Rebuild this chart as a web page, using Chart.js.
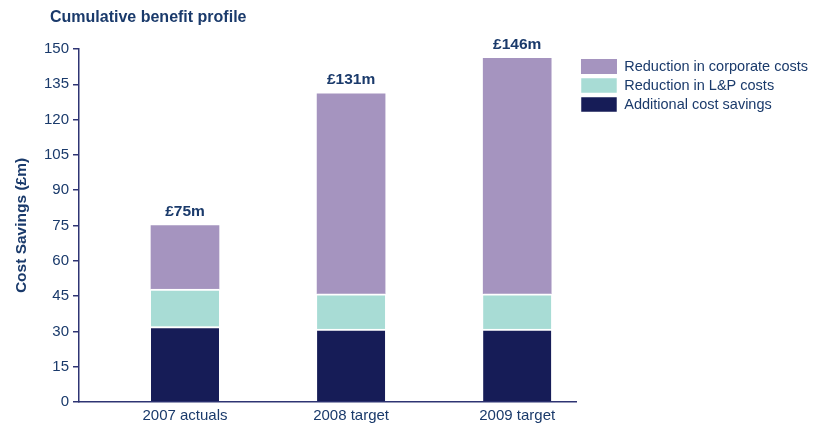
<!DOCTYPE html>
<html>
<head>
<meta charset="utf-8">
<script src="https://cdn.jsdelivr.net/npm/chart.js@4.4.1/dist/chart.umd.min.js"></script>
<style>
  body { margin: 0; background: #fff; }
  #wrap { position: relative; width: 814px; height: 426px; }
  #title {
    position: absolute; left: 50px; top: 9px;
    font: bold 16px "Liberation Sans", Arial, sans-serif; line-height: 16px;
    color: #1a3a6b;
  }
</style>
</head>
<body>
<div id="wrap">
  <canvas id="benefitChart"></canvas>
  <div id="title">Cumulative benefit profile</div>
</div>
<script>
const categories = ['2007 actuals', '2008 target', '2009 target'];
const categoryPos = [1, 2, 3];
const additionalSavings = [32, 31, 31];
const lpReduction = [16, 15, 15];
const corporateReduction = [27, 85, 100];
const totalLabels = ['£75m', '£131m', '£146m'];

const textColor = '#1a3a6b';
const axisColor = '#2e3473';
const fontFamily = '"Liberation Sans", Arial, sans-serif';

// bar totals written above each stack
const totalsPlugin = {
    id: 'totals',
    afterDatasetsDraw(chart) {
        const meta = chart.getDatasetMeta(chart.data.datasets.length - 1);
        const ctx = chart.ctx;
        ctx.save();
        ctx.font = 'bold 15.5px ' + fontFamily;
        ctx.fillStyle = textColor;
        ctx.textAlign = 'center';
        ctx.textBaseline = 'bottom';
        meta.data.forEach((bar, i) => ctx.fillText(totalLabels[i], bar.x, bar.y - 6));
        ctx.restore();
    }
};

const toPoints = arr => arr.map((v, i) => ({ x: categoryPos[i], y: v }));

const ctx = document.getElementById('benefitChart').getContext('2d');
new Chart(ctx, {
    type: 'bar',
    data: {
        datasets: [
            {
                label: 'Additional cost savings',
                data: toPoints(additionalSavings),
                backgroundColor: '#161c57',
                borderColor: '#ffffff',
                borderWidth: { top: 2, left: 0, right: 0, bottom: 0 },
                borderSkipped: 'start'
            },
            {
                label: 'Reduction in L&P costs',
                data: toPoints(lpReduction),
                backgroundColor: '#a8dcd5',
                borderColor: '#ffffff',
                borderWidth: { top: 2, left: 0, right: 0, bottom: 0 },
                borderSkipped: 'start'
            },
            {
                label: 'Reduction in corporate costs',
                data: toPoints(corporateReduction),
                backgroundColor: '#a594bf',
                borderWidth: 0
            }
        ]
    },
    options: {
        responsive: true,
        maintainAspectRatio: false,
        animation: false,
        barThickness: 68,
        layout: { padding: { left: 12.4, top: 49, right: -4, bottom: -4 } },
        plugins: {
            tooltip: { enabled: false },
            legend: {
                position: 'right',
                align: 'start',
                reverse: true,
                maxWidth: 250,
                title: { display: true, text: '', font: { size: 1, lineHeight: 1 }, padding: { top: 5, bottom: 0 } },
                labels: {
                    boxWidth: 36,
                    boxHeight: 15,
                    padding: 4,
                    color: textColor,
                    font: { family: fontFamily, size: 14.5 }
                }
            }
        },
        scales: {
            x: {
                type: 'linear',
                stacked: true,
                offset: false,
                min: 0.362,
                max: 3.36,
                afterBuildTicks: scale => { scale.ticks = categoryPos.map(v => ({ value: v })); },
                grid: { display: true, offset: false, drawOnChartArea: false, drawTicks: false },
                border: { color: axisColor, width: 1.5 },
                ticks: {
                    autoSkip: false,
                    maxRotation: 0,
                    padding: 5,
                    color: textColor,
                    font: { family: fontFamily, size: 15 },
                    callback: value => categories[categoryPos.indexOf(value)]
                }
            },
            y: {
                stacked: true,
                min: 0,
                max: 150,
                grid: { drawOnChartArea: false, drawTicks: true, tickLength: 6, color: axisColor, lineWidth: 1.5 },
                border: { color: axisColor, width: 1.5 },
                ticks: {
                    stepSize: 15,
                    padding: 4,
                    color: textColor,
                    font: { family: fontFamily, size: 15 }
                },
                title: {
                    display: true,
                    text: 'Cost Savings (£m)',
                    color: textColor,
                    font: { family: fontFamily, size: 15.5, weight: 'bold' },
                    padding: { top: 0, bottom: 9 }
                }
            }
        }
    },
    plugins: [totalsPlugin]
});
</script>
</body>
</html>
